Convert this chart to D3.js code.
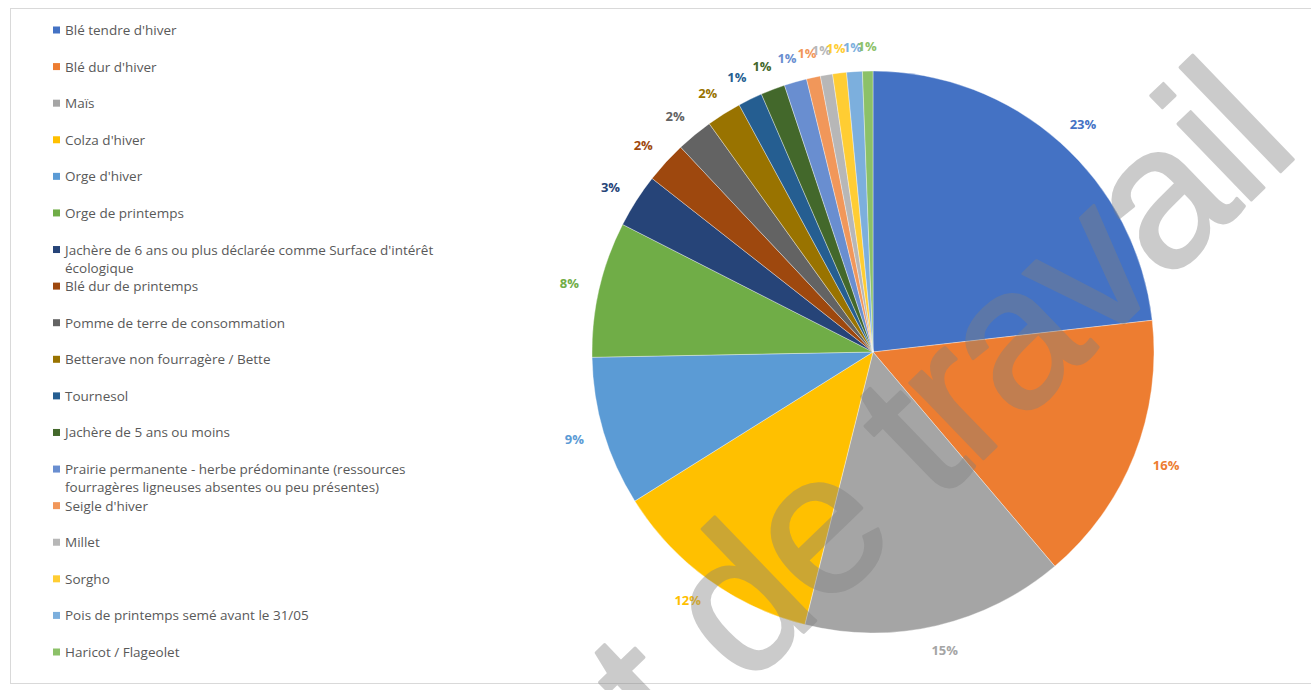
<!DOCTYPE html>
<html>
<head>
<meta charset="utf-8">
<script src="https://cdn.jsdelivr.net/npm/d3@7"></script>
<style>
  html, body { margin: 0; padding: 0; background: #fff; }
  svg { display: block; }
</style>
</head>
<body>
<svg id="chart" width="1311" height="690"></svg>
<script>
const categories = [
  "Blé tendre d'hiver",
  "Blé dur d'hiver",
  "Maïs",
  "Colza d'hiver",
  "Orge d'hiver",
  "Orge de printemps",
  "Jachère de 6 ans ou plus déclarée comme Surface d'intérêt écologique",
  "Blé dur de printemps",
  "Pomme de terre de consommation",
  "Betterave non fourragère / Bette",
  "Tournesol",
  "Jachère de 5 ans ou moins",
  "Prairie permanente - herbe prédominante (ressources fourragères ligneuses absentes ou peu présentes)",
  "Seigle d'hiver",
  "Millet",
  "Sorgho",
  "Pois de printemps semé avant le 31/05",
  "Haricot / Flageolet"
];
const values = [23.2, 15.6, 15.1, 12.2, 8.6, 7.8, 3.1, 2.4, 2.1, 2.0, 1.4, 1.4, 1.3, 0.8, 0.7, 0.8, 0.9, 0.6];
const colors = ["#4472C4", "#ED7D31", "#A5A5A5", "#FFC000", "#5B9BD5", "#70AD47",
                "#264478", "#9E480E", "#636363", "#997300", "#255E91", "#43682B",
                "#698ED0", "#F1975A", "#B7B7B7", "#FFCD33", "#7CAFDD", "#8CC168"];
const watermarkText = "Document de travail";

const svg = d3.select("#chart");

// frame
svg.append("rect")
  .attr("x", 10.5).attr("y", 8.5).attr("width", 1320).attr("height", 675)
  .attr("fill", "#fff").attr("stroke", "#d9d9d9").attr("stroke-width", 1);

const data = categories.map((c, i) => ({ name: c, value: values[i], color: colors[i] }));
const total = d3.sum(values);
const fmt = d3.format(".0%");

// ---- Pie ----
const cx = 873, cy = 352, R = 281;
const pie = d3.pie().value(d => d.value).sort(null);
const arcs = pie(data);
const arc = d3.arc().innerRadius(0).outerRadius(R);

const g = svg.append("g").attr("transform", `translate(${cx},${cy})`);
g.selectAll("path.slice").data(arcs).join("path")
  .attr("class", "slice")
  .attr("d", arc)
  .attr("fill", d => d.data.color)
  .attr("stroke", "#ffffff")
  .attr("stroke-width", 0.6)
  .attr("stroke-opacity", 0.6);

// labels
const R0 = 300;
const labels = g.selectAll("text.lbl").data(arcs).join("text")
  .attr("class", "lbl")
  .attr("text-anchor", "middle")
  .attr("dominant-baseline", "central")
  .attr("font-family", "'Open Sans', sans-serif")
  .attr("font-weight", "bold")
  .attr("font-size", 13)
  .attr("fill", d => d.data.color)
  .text(d => fmt(d.data.value / total));
labels.each(function(d) {
  const a = (d.startAngle + d.endAngle) / 2;
  const w = this.getComputedTextLength();
  const h = 12;
  const sx = Math.sin(a), sy = -Math.cos(a);
  const x = R0 * sx + (w / 2 + 2) * sx;
  const y = R0 * sy + (h / 2) * sy;
  d3.select(this).attr("x", x).attr("y", y);
});

// ---- Legend ----
const legendY = d3.scalePoint().domain(categories).range([30, 652]);
const legend = svg.append("g");
const maxW = 380;
const items = legend.selectAll("g.item").data(data).join("g")
  .attr("class", "item")
  .attr("transform", d => `translate(0,${legendY(d.name)})`);
items.append("rect")
  .attr("x", 53).attr("y", -3.5).attr("width", 7).attr("height", 7)
  .attr("fill", d => d.color);
items.append("text")
  .attr("x", 65).attr("y", 0)
  .attr("dominant-baseline", "central")
  .attr("font-family", "'Open Sans', sans-serif")
  .attr("font-size", 13.5)
  .attr("fill", "#595959")
  .each(function(d) {
    const t = d3.select(this);
    const words = d.name.split(" ");
    let line = [];
    let tspan = t.append("tspan").attr("x", 65).attr("dy", 0);
    words.forEach(wd => {
      line.push(wd);
      tspan.text(line.join(" "));
      if (tspan.node().getComputedTextLength() > maxW && line.length > 1) {
        line.pop();
        tspan.text(line.join(" "));
        line = [wd];
        tspan = t.append("tspan").attr("x", 65).attr("dy", 18).text(wd);
      }
    });
  });

// ---- Watermark ----
svg.append("g")
  .attr("opacity", 0.4)
  .append("text")
  .attr("transform", "translate(1300,153) rotate(-44)")
  .attr("text-anchor", "end")
  .attr("font-family", "'Liberation Sans', Arial, sans-serif")
  .attr("font-size", 200)
  .attr("letter-spacing", -4)
  .attr("fill", "#808080")
  .attr("stroke", "#808080")
  .attr("stroke-width", 3)
  .attr("stroke-linejoin", "round")
  .text(watermarkText);
</script>
</body>
</html>
